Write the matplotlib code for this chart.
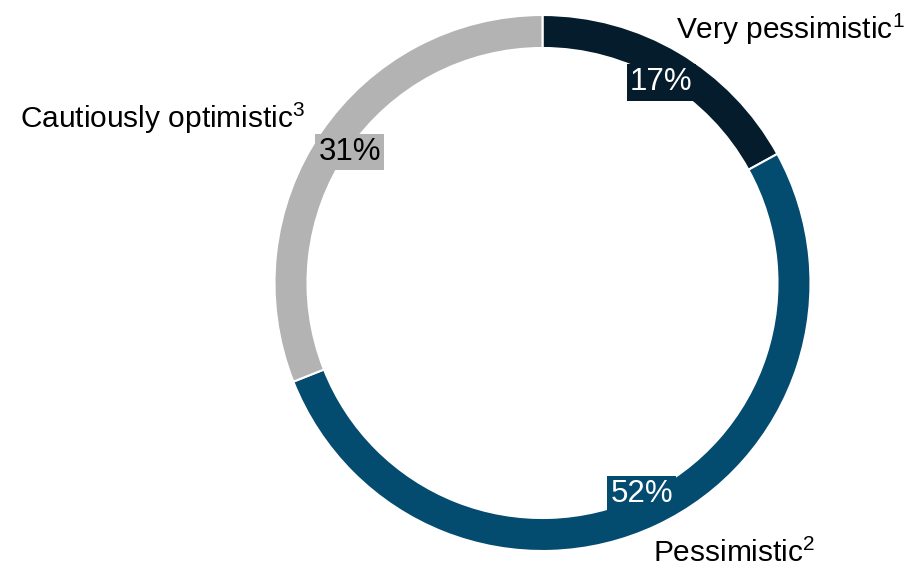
import numpy as np
import matplotlib.pyplot as plt

plt.rcParams['font.family'] = ['Liberation Sans', 'DejaVu Sans']
plt.rcParams['mathtext.fontset'] = 'custom'
plt.rcParams['mathtext.rm'] = 'Liberation Sans'
plt.rcParams['mathtext.it'] = 'Liberation Sans'
plt.rcParams['mathtext.bf'] = 'Liberation Sans'

labels = ["Very pessimistic$^{1}$", "Pessimistic$^{2}$", "Cautiously optimistic$^{3}$"]
values = [17, 52, 31]
colors = ["#051c2c", "#034b6f", "#b3b3b3"]
pct_text_colors = ["white", "white", "black"]

W, H = 919, 568
cx, cy = 542.5, H - 283
R = 268
ring = 33

fig = plt.figure(figsize=(W / 100, H / 100), dpi=100)
ax = fig.add_axes([0, 0, 1, 1])

wedges, _ = ax.pie(values, colors=colors, startangle=90, counterclock=False,
                   radius=R, center=(cx, cy), frame=True,
                   wedgeprops=dict(width=ring, edgecolor="white", linewidth=1.5))
ax.set_xlim(0, W)
ax.set_ylim(0, H)
ax.set_aspect("equal")
ax.axis("off")

# percentage boxes at segment midpoints
r_lab = 233
for w, v, c, tc in zip(wedges, values, colors, pct_text_colors):
    mid = np.deg2rad((w.theta1 + w.theta2) / 2)
    x = cx + r_lab * np.cos(mid)
    y = cy + r_lab * np.sin(mid)
    ax.text(x, y, f"{v}%", ha="center", va="center", fontsize=22.5, color=tc,
            bbox=dict(boxstyle="square,pad=0.1", fc=c, ec="none"))

# category labels
ax.text(676, H - 29, labels[0], ha="left", va="center", fontsize=21.5)
ax.text(653, H - 553, labels[1], ha="left", va="center", fontsize=21.5)
ax.text(20, H - 118, labels[2], ha="left", va="center", fontsize=21.5)

fig.savefig("out.png", dpi=100)
